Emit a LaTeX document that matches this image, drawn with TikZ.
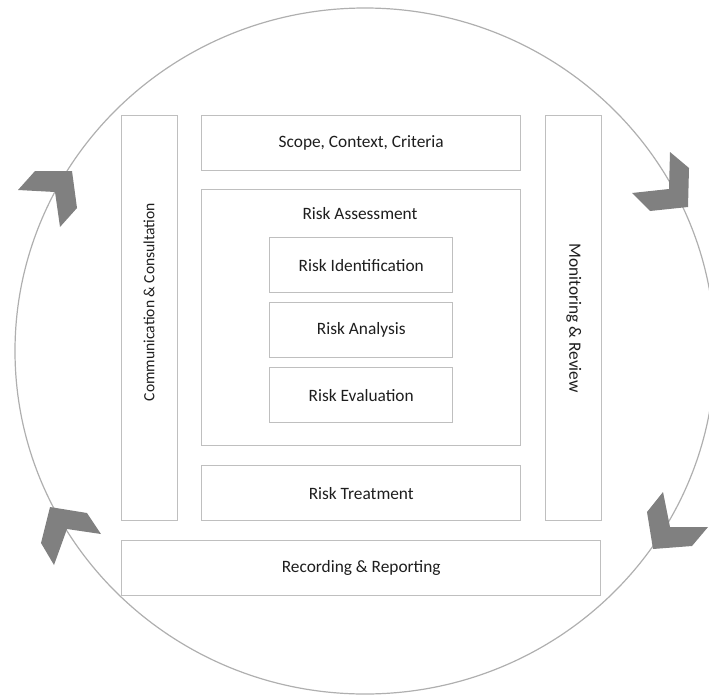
\documentclass[tikz,border=0pt]{standalone}
\usepackage{fontspec}
\setmainfont{Carlito}
\begin{document}
\definecolor{boxline}{RGB}{191,191,191}
\definecolor{ringline}{RGB}{175,175,175}
\definecolor{chevron}{RGB}{128,128,128}
\definecolor{ink}{RGB}{30,30,30}
\begin{tikzpicture}[x=0.75pt,y=-0.75pt,
  panel/.style 2 args={draw=boxline,line width=1.1pt,fill=white,text=ink,
    font=\fontsize{13}{15}\selectfont,inner sep=0pt,anchor=north west,
    minimum width=#1*0.75pt,minimum height=#2*0.75pt},
  sidelabel/.style={text=ink,font=\fontsize{11.7}{14}\selectfont},
  chev/.style={fill=chevron,draw=none}]
\useasboundingbox (0,0) rectangle (709,696);
% cycle ring
\draw[ringline,line width=0.9pt] (365,351) ellipse [x radius=350,y radius=343];
% side columns
\node[panel={56}{405}] (comm) at (121,115) {};
\node[sidelabel,rotate=90] (commlabel) at (149,302) {Communication \& Consultation};
\node[panel={56}{405}] (mon) at (545,115) {};
\node[sidelabel,rotate=-90,font=\fontsize{13}{15}\selectfont] (monlabel) at (mon.center) {Monitoring \& Review};
% central process
\node[panel={319}{55}] (scope) at (201,115) {Scope, Context, Criteria};
\node[panel={319}{256}] (assess) at (201,189) {};
\node[text=ink,font=\fontsize{13}{15}\selectfont] (assesslabel) at (360,214) {Risk Assessment};
\node[panel={183}{55}] (ident) at (269,237) {Risk Identification};
\node[panel={183}{55}] (anal) at (269,302) {Risk Analysis};
\node[panel={183}{55}] (eval) at (269,367) {Risk Evaluation};
\node[panel={319}{55}] (treat) at (201,465) {Risk Treatment};
\node[panel={479}{55}] (rec) at (121,540) {Recording \& Reporting};
% chevrons on the ring
\fill[chev] (18,190) -- (35,171) -- (72,171) -- (77,208) -- (60,227) -- (55,192) -- cycle;
\fill[chev] (670,152) -- (689,168) -- (688,207) -- (650,211) -- (632,193) -- (669,189) -- cycle;
\fill[chev] (50,507) -- (87,513) -- (101,534) -- (67,529) -- (54,565) -- (41,543) -- cycle;
\fill[chev] (663,492) -- (670,527) -- (708,527) -- (692,546) -- (653,549) -- (647,512) -- cycle;
\end{tikzpicture}
\end{document}
